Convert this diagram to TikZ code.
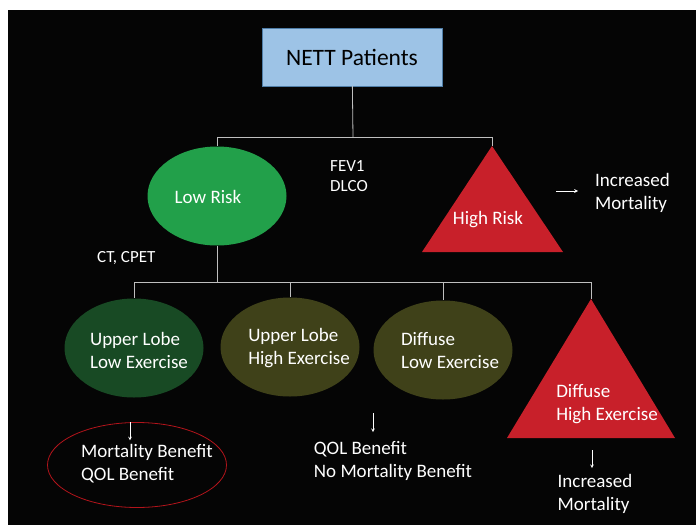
\documentclass[tikz,border=0pt]{standalone}
\usepackage{fontspec}
\setmainfont{Carlito}
\usepackage{tikz}
\usetikzlibrary{arrows, positioning, shapes, calc}
\definecolor{boxblue}{HTML}{9DC3E6}
\definecolor{boxedge}{HTML}{4F7EA8}
\definecolor{lowgreen}{HTML}{22A04A}
\definecolor{lobegreen}{HTML}{184A24}
\definecolor{groupolive}{HTML}{3F4119}
\definecolor{riskred}{HTML}{C8202A}
\definecolor{ringred}{HTML}{B3141B}
\definecolor{linegray}{HTML}{BFBFBF}
\tikzset{
	every node/.style={
		align=center,
		text=white,
		inner sep=0pt,
		font=\fontsize{19}{23}\selectfont,
	},
	top-node/.style={
		rectangle,
		fill=boxblue,
		draw=boxedge, thin,
		minimum width=180pt,
		minimum height=58pt,
		text=black,
		font=\fontsize{23.5}{28}\selectfont,
	},
	group-node/.style={
		ellipse,
		minimum width=139pt,
		minimum height=99pt,
	},
	group-text/.style={align=left},
	small-text/.style={font=\fontsize{17}{20}\selectfont},
	risk-tri/.style={fill=riskred},
	link-style/.style = {draw=linegray, line width=0.8pt},
	arrow-style/.style = {draw=white, line width=0.7pt, ->, >=stealth},
}

\begin{document}
\begin{tikzpicture}[x=1pt,y=-1pt]
	\useasboundingbox (0,0) rectangle (696,525);
	\fill[white] (0,0) rectangle (696,525);
	\fill[black!98] (8,10) rectangle (696,525);

	% first split
	\node (nett) [top-node] at (352,57) {NETT Patients};
	\node (low) [group-node, fill=lowgreen] at (217,196) {};
	\node (lowtxt) at (208,197) {Low Risk};
	\coordinate (hightop) at (492,146);
	\fill[risk-tri] (hightop) -- (422,252) -- (563,252) -- cycle;
	\node (high) at (488,220) {High Risk};
	\node (tests) [anchor=west, align=left, small-text] at (330,176) {FEV1\\DLCO};
	\node (incr1) [anchor=west, align=left] at (595,193) {Increased\\Mortality};
	\coordinate (fork1) at (353,137);

	% second split
	\node (imaging) [anchor=west, small-text] at (97,258) {CT, CPET};
	\node (ullow) [group-node, fill=lobegreen] at (134,348) {};
	\node (ullowtxt) [group-text] at (139,350) {Upper Lobe\\Low Exercise};
	\node (ulhigh) [group-node, fill=groupolive] at (290,347) {};
	\node (ulhightxt) [group-text] at (299,348) {Upper Lobe\\High Exercise};
	\node (dlow) [group-node, fill=groupolive] at (443,350) {};
	\node (dlowtxt) [group-text] at (450,351) {Diffuse\\Low Exercise};
	\coordinate (dhightop) at (591,299);
	\fill[risk-tri] (dhightop) -- (507,438) -- (675,438) -- cycle;
	\node (dhigh) [group-text] at (607,404) {Diffuse\\High Exercise};
	\coordinate (fork2) at (217,282);

	% outcomes
	\node (ring) [ellipse, draw=ringred, line width=0.8pt, minimum width=179pt, minimum height=85pt] at (137,465) {};
	\node (mortben) [align=left] at (147,464) {Mortality Benefit\\QOL Benefit};
	\node (qol) [align=left] at (393,461) {QOL Benefit\\No Mortality Benefit};
	\node (incr2) [align=left] at (595,494) {Increased\\Mortality};

	% tree lines
	\draw[link-style] (nett) -- (fork1);
	\draw[link-style] (fork1) -| (low);
	\draw[link-style] (fork1) -| (hightop);
	\draw[link-style] (low) -- (fork2);
	\draw[link-style] (fork2) -| (ullow);
	\draw[link-style] (fork2) -| (ulhigh);
	\draw[link-style] (fork2) -| (dlow);
	\draw[link-style] (fork2) -| (dhightop);

	% small arrows
	\coordinate (hrarrow) at (556,191);
	\coordinate (mortarrow) at (130,422);
	\coordinate (qolarrow) at (373,413);
	\coordinate (incarrow) at (592,450);
	\draw[arrow-style, shorten >=17pt] (hrarrow) -- (hrarrow -| incr1.west);
	\draw[arrow-style, shorten >=4pt] (mortarrow) -- (mortarrow |- mortben.north);
	\draw[arrow-style, shorten >=9pt] (qolarrow) -- (qolarrow |- qol.north);
	\draw[arrow-style, shorten >=6pt] (incarrow) -- (incarrow |- incr2.north);
\end{tikzpicture}
\end{document}
